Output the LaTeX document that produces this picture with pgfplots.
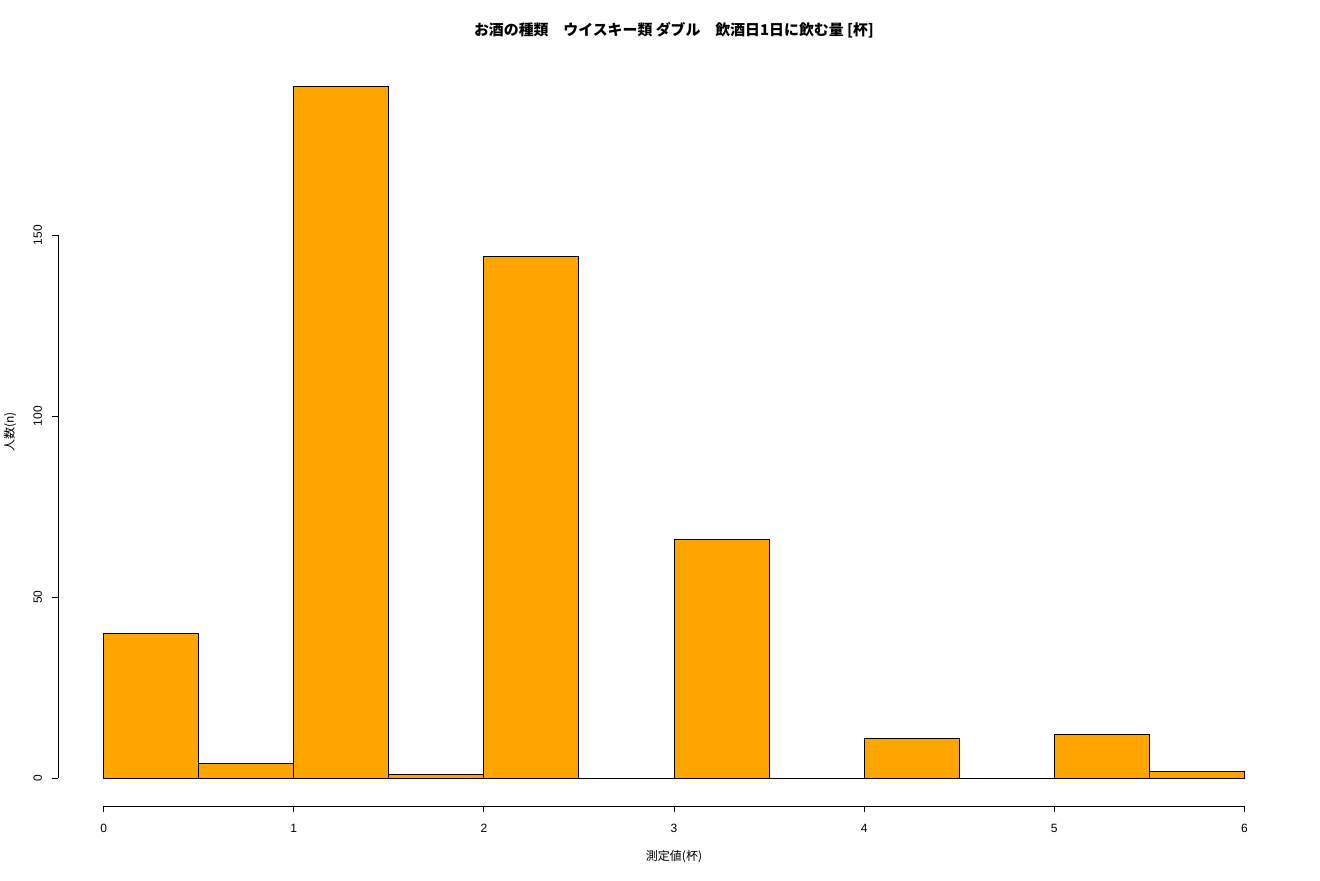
\documentclass[border=0pt]{standalone}
\usepackage{pgfplots}
\pgfplotsset{compat=1.18}
\usepackage{fontspec}
\setmainfont{Liberation Sans}
\newfontfamily\cjk{Noto Sans CJK JP}
\definecolor{rorange}{HTML}{FFA500}
\begin{document}
\begin{tikzpicture}
\useasboundingbox (0,0) rectangle (660pt,440pt);
\begin{axis}[
 at={(29pt,37pt)}, anchor=south west,
 scale only axis, width=616pt, height=373.5pt,
 xmin=-0.24, xmax=6.24, ymin=-7.64, ymax=198.64,
 axis line style={draw=none},
 tick pos=left, tick align=outside,
 major tick length=3pt,
 tick style={black, line width=0.5pt},
 xtick={0,1,2,3,4,5,6}, ytick={0,50,100,150},
 ticklabel style={font=\fontsize{6}{7}\selectfont},
 xticklabel style={yshift=-2.5pt},
 yticklabel style={rotate=90, anchor=south, yshift=1.5pt},
 /pgf/number format/assume math mode=true,
 clip=false,
]
\addplot[ybar interval, fill=rorange, draw=black, line width=0.5pt] coordinates {
(0,40) (0.5,4) (1,191) (1.5,1) (2,144) (2.5,0) (3,66) (3.5,0) (4,11) (4.5,0) (5,12) (5.5,2) (6,2)
};
\draw[line width=0.5pt] (axis cs:0,-7.64) -- (axis cs:6,-7.64);
\draw[line width=0.5pt] (axis cs:-0.24,0) -- (axis cs:-0.24,150);
\end{axis}
\node[font=\cjk\bfseries\fontsize{7.45}{8}\selectfont] at (337pt,425pt) {お酒の種類　ウイスキー類 ダブル　飲酒日1日に飲む量 [杯]};
\node[font=\cjk\fontsize{6}{7}\selectfont] at (337pt,11.5pt) {測定値(杯)};
\node[font=\cjk\fontsize{6}{7}\selectfont, rotate=90] at (5pt,224pt) {人数(n)};
\end{tikzpicture}
\end{document}
